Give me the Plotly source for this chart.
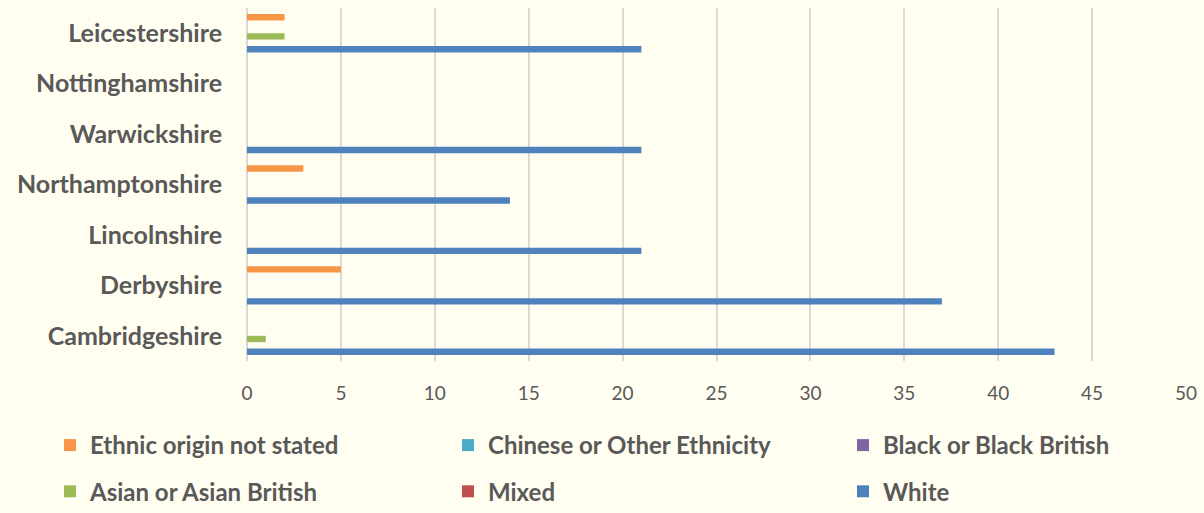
import plotly.graph_objects as go

categories = ["Cambridgeshire", "Derbyshire", "Lincolnshire", "Northamptonshire",
              "Warwickshire", "Nottinghamshire", "Leicestershire"]
white = [43, 37, 21, 14, 21, 0, 21]
mixed = [0, 0, 0, 0, 0, 0, 0]
asian = [1, 0, 0, 0, 0, 0, 2]
black = [0, 0, 0, 0, 0, 0, 0]
chinese = [0, 0, 0, 0, 0, 0, 0]
not_stated = [0, 5, 0, 3, 0, 0, 2]
x_ticks = [0, 5, 10, 15, 20, 25, 30, 35, 40, 45, 50]

# name, values, colour, legend column, rank within column
series = [
    ("White", white, "#4F81BD", "legend3", 2),
    ("Mixed", mixed, "#C0504D", "legend2", 2),
    ("Asian or Asian British", asian, "#9BBB59", "legend", 2),
    ("Black or Black British", black, "#8064A2", "legend3", 1),
    ("Chinese or Other Ethnicity", chinese, "#4BACC6", "legend2", 1),
    ("Ethnic origin not stated", not_stated, "#F79646", "legend", 1),
]

FONT = "Lato, 'Open Sans', sans-serif"
TXT = "#595959"
BG = "#FFFEF0"

fig = go.Figure()
for name, vals, color, leg, rank in series:
    fig.add_trace(go.Bar(
        y=categories, x=vals, name=name, orientation="h",
        marker=dict(color=color, line=dict(width=0)),
        legend=leg, legendgroup=name, legendrank=rank,
    ))

W, H = 1204, 513
legend_common = dict(
    orientation="v", xref="container", yref="container",
    yanchor="top", xanchor="left",
    traceorder="grouped", tracegroupgap=12,
    font=dict(family=FONT, size=24, color=TXT, weight="bold"),
    bgcolor="rgba(0,0,0,0)", itemwidth=30,
)
ytop = 1 - 423 / H

fig.update_layout(
    width=W, height=H,
    paper_bgcolor=BG, plot_bgcolor=BG,
    margin=dict(l=247, r=18, t=8, b=152, autoexpand=False),
    barmode="group", bargap=0.24, bargroupgap=0,
    showlegend=True,
    legend=dict(x=50 / W, y=ytop, **legend_common),
    legend2=dict(x=448 / W, y=ytop, **legend_common),
    legend3=dict(x=843 / W, y=ytop, **legend_common),
    xaxis=dict(
        range=[0, 50], tickvals=x_ticks, showgrid=True,
        gridcolor="#D9D9D9", gridwidth=1.5, zeroline=True,
        zerolinecolor="#D9D9D9", zerolinewidth=1.5, showline=False,
        tickfont=dict(family=FONT, size=19, color=TXT),
        ticks="", ticklabelstandoff=19, automargin=False,
    ),
    yaxis=dict(
        categoryorder="array", categoryarray=categories,
        showgrid=False, zeroline=False, showline=False, ticks="",
        tickfont=dict(family=FONT, size=25, color=TXT, weight="bold"),
        ticklabelstandoff=24, automargin=False,
    ),
)

fig.write_html("out.html")
